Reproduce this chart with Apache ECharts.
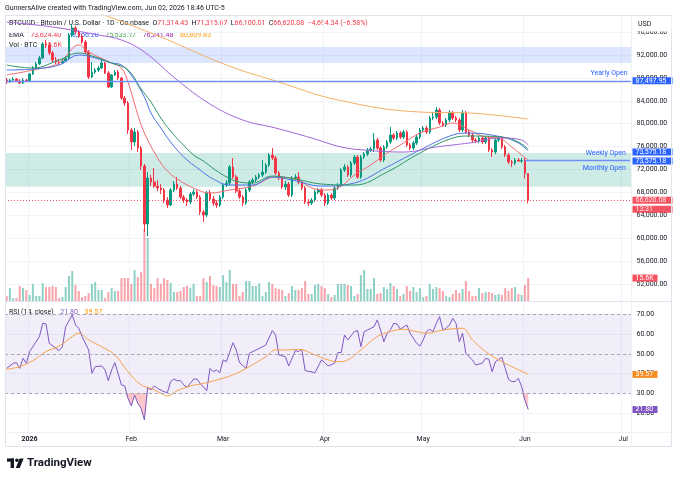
<!DOCTYPE html>
<html lang="en">
<head>
<meta charset="UTF-8">
<title>BTCUSD 1D</title>
<script src="https://cdn.jsdelivr.net/npm/echarts@6/dist/echarts.min.js"></script>
<style>
  html, body { margin: 0; padding: 0; background: #fff; }
  #chart { width: 680px; height: 480px; }
</style>
</head>
<body>
<div id="chart"></div>
<script>
var font = 'Roboto, "DejaVu Sans", sans-serif';

// one category per calendar day, 25 Dec 2025 .. 3 Jul 2026
var days = [];
for (var k = 0; k < 191; k++) {
  days.push(new Date(Date.UTC(2025, 11, 25) + k * 864e5).toISOString().slice(0, 10));
}
var monthNames = ['2026', 'Feb', 'Mar', 'Apr', 'May', 'Jun', 'Jul', 'Aug', 'Sep', 'Oct', 'Nov', 'Dec'];

// daily candles, 25 Dec 2025 .. 2 Jun 2026
var opens = [
  87630,87280,87630,87810,87460,87110,87630,87497.95,88680,89730,
  90430,91480,93920,93750,92350,91130,90780,90600,90950,91480,
  95490,96720,96020,95320,94270,92520,88160,89030,89380,89730,
  90600,88860,86410,88510,89030,87980,84490,83610,78900,76800,
  78550,75750,72610,62480,70510,69810,69110,68770,68420,66670,
  65800,68420,69460,68770,67190,66670,66320,67720,68070,67190,
  64570,64050,67890,66840,66140,65800,67190,69290,69640,72430,
  70690,68240,67190,66140,68420,69810,70160,70690,71040,71560,
  72780,74530,74010,71390,70510,68940,69460,67540,70510,70690,
  69810,68770,66320,66140,66670,68070,68420,67540,66140,67540,
  67020,68770,69290,71910,72430,71040,73130,74180,70690,74180,
  74700,75400,75580,77150,75750,73660,75930,76800,78020,77500,
  78370,77670,78550,76280,75750,76630,77670,78900,79250,78550,
  80990,81170,82390,80120,79770,80640,81870,80990,80640,78900,
  81870,78550,78020,77150,76970,77500,76800,77500,75400,75050,
  77150,77500,75930,74530,73310,73130,73660,73480,73575.18,71314.43
];
var closes = [
  87280,87630,87810,87460,87110,87630,87497.95,88680,89730,90430,
  91480,93920,93750,92350,91130,90780,90600,90950,91480,95490,
  96720,96020,95320,94270,92520,88160,89030,89380,89730,90600,
  88860,86410,88510,89030,87980,84490,83610,78900,76800,78550,
  75750,72610,62480,70510,69810,69110,68770,68420,66670,65800,
  68420,69460,68770,67190,66670,66320,67720,68070,67190,64570,
  64050,67890,66840,66140,65800,67190,69290,69640,72430,70690,
  68240,67190,66140,68420,69810,70160,70690,71040,71560,72780,
  74530,74010,71390,70510,68940,69460,67540,70510,70690,69810,
  68770,66320,66140,66670,68070,68420,67540,66140,67540,67020,
  68770,69290,71910,72430,71040,73130,74180,70690,74180,74700,
  75400,75580,77150,75750,73660,75930,76800,78020,77500,78370,
  77670,78550,76280,75750,76630,77670,78900,79250,78550,80990,
  81170,82390,80120,79770,80640,81870,80990,80640,78900,81870,
  78550,78020,77150,76970,77500,76800,77500,75400,75050,77150,
  77500,75930,74530,73310,73130,73660,73480,73575.18,71314.43,66620.08
];
var lows = [
  86930,87110,87460,87280,86930,86930,87280,87280,88510,89550,
  90250,91300,93220,92000,90600,90430,90250,90430,90780,91300,
  95140,95670,94970,93920,92170,87810,87980,88680,89030,89550,
  88680,86240,86240,88330,87630,84140,83090,78200,75400,76100,
  75050,71910,61080,60380,69110,68770,68240,67720,66140,65270,
  65620,68070,68420,66840,66140,65620,65970,67370,66840,64050,
  62830,63700,66490,65620,65270,65450,66840,68940,69290,70340,
  67890,66840,65620,65800,68070,69460,69810,70340,70690,71210,
  72430,73660,71040,70160,68590,68420,67190,67190,70160,69460,
  68420,65970,65620,65800,66320,67720,67190,65620,65800,66670,
  66670,68420,68940,71560,70690,70690,72780,70340,70340,73830,
  74360,75050,75050,75400,73310,73310,75580,76450,77150,77150,
  77320,77320,75930,75400,75400,76280,77320,78550,78200,78200,
  80640,80820,79770,79420,79420,80290,80640,80290,78550,78550,
  78200,77670,76800,76630,76630,76450,76450,75050,74180,74700,
  76800,75580,74180,72960,72430,72780,73310,73130,70430,66100.01
];
var highs = [
  87980,87810,88160,87980,87810,87980,87810,88860,90080,90780,
  91830,94270,94620,94100,92700,91650,91300,91300,91830,95840,
  97420,97070,96370,95670,94620,92870,90780,89730,90080,91480,
  90780,89200,88680,89380,89380,88160,84840,83960,79250,79250,
  78900,76100,72960,71560,71040,72260,70160,69460,68770,67190,
  68770,69990,70690,69110,67540,67020,68070,68590,68420,67540,
  64920,68240,68420,67370,66670,67540,69640,70160,72780,74010,
  71040,68590,67540,68770,70160,70510,71040,71390,73660,73130,
  74880,75750,74360,71740,70860,69990,69810,70860,71210,71560,
  70160,69110,66840,67020,68420,68770,68770,67890,67890,67890,
  69110,69640,72260,72960,72780,73480,74530,74530,74530,75050,
  75750,75930,78370,77500,76100,76280,77150,79420,78370,78720,
  78720,78900,78900,76630,76970,78020,79250,79600,79600,81340,
  82040,82910,82740,80470,80990,82390,82220,81340,80990,82390,
  82220,78900,78370,77500,77850,77850,77850,77850,75750,77500,
  77850,77850,76280,74880,73660,74010,74010,74010,74010,71315.67
];
// volume in thousands of BTC
var volumes = [
  3.4,8.8,2.0,2.0,10.2,8.8,7.5,4.1,11.6,3.4,
  3.4,12.2,9.5,9.5,10.2,9.5,2.0,2.7,9.5,17.0,
  20.4,10.9,6.8,2.7,3.4,5.4,11.6,12.9,7.5,7.5,
  2.0,6.1,8.8,6.8,6.8,15.6,15.6,15.6,11.6,21.1,
  16.3,19.7,49.0,42.8,11.6,8.8,15.6,11.6,15.6,14.3,
  12.2,6.1,6.1,6.8,9.5,10.2,8.8,11.6,3.4,3.4,
  15.6,12.9,17.0,10.9,10.2,9.5,17.7,12.9,21.1,11.6,
  11.6,3.4,6.1,13.6,13.6,10.2,10.2,12.2,3.4,6.1,
  12.9,11.6,8.8,8.2,7.5,3.4,5.4,10.2,7.5,7.5,
  8.8,13.6,4.8,4.8,10.9,11.6,10.2,8.8,4.8,2.7,
  4.1,11.6,11.6,11.6,10.9,10.2,3.4,4.8,17.7,21.1,
  8.2,8.2,15.6,4.8,5.4,9.5,8.2,12.2,10.2,8.2,
  3.4,4.8,10.2,6.8,9.5,6.1,8.8,2.7,3.4,11.6,
  8.2,9.5,8.8,6.8,3.4,2.7,4.8,7.5,5.4,8.2,
  13.6,6.8,3.4,3.4,8.8,5.4,6.1,6.1,5.4,4.1,
  4.8,4.1,8.8,6.8,8.8,9.5,4.8,4.1,10.9,15.6
];

// EMA lines at sample days
var emaRed = [
  ['2025-12-25',88510],['2026-01-02',89380],['2026-01-10',90600],['2026-01-16',93750],['2026-01-19',92520],
  ['2026-01-26',90600],['2026-01-29',89730],['2026-01-31',87280],['2026-02-02',83440],['2026-02-04',79770],
  ['2026-02-06',77150],['2026-02-08',75050],['2026-02-10',73130],['2026-02-12',71740],['2026-02-15',70340],
  ['2026-02-20',68770],['2026-02-25',67890],['2026-03-03',68420],['2026-03-10',69110],['2026-03-17',70690],
  ['2026-03-24',70160],['2026-03-28',68770],['2026-04-02',68420],['2026-04-06',69110],['2026-04-10',71040],
  ['2026-04-15',72780],['2026-04-20',74880],['2026-04-25',76630],['2026-04-30',78370],['2026-05-06',79420],
  ['2026-05-10',80120],['2026-05-15',78900],['2026-05-20',77670],['2026-05-24',77500],['2026-05-28',75930],
  ['2026-05-31',74530],['2026-06-02',73624.40]
];
var emaBlue = [
  ['2025-12-25',89380],['2026-01-02',89550],['2026-01-10',90250],['2026-01-16',92000],['2026-01-20',91650],
  ['2026-01-26',90600],['2026-01-29',90250],['2026-02-01',88510],['2026-02-05',84660],['2026-02-07',81870],
  ['2026-02-10',79250],['2026-02-13',76800],['2026-02-17',74180],['2026-02-22',71910],['2026-02-26',70340],
  ['2026-03-03',69290],['2026-03-10',69290],['2026-03-16',70690],['2026-03-22',70160],['2026-03-31',69110],
  ['2026-04-10',69640],['2026-04-20',72430],['2026-04-30',75400],['2026-05-10',78020],['2026-05-15',78370],
  ['2026-05-25',77670],['2026-05-30',76630],['2026-06-02',75256.20]
];
var emaGreen = [
  ['2025-12-25',90250],['2026-01-02',89730],['2026-01-10',91130],['2026-01-16',92350],['2026-01-20',91830],
  ['2026-01-26',90600],['2026-01-31',89380],['2026-02-04',86060],['2026-02-07',83790],['2026-02-10',80990],
  ['2026-02-13',78720],['2026-02-16',76800],['2026-02-20',74530],['2026-02-23',73480],['2026-02-28',71390],
  ['2026-03-06',69810],['2026-03-10',69640],['2026-03-16',70860],['2026-03-23',70340],['2026-03-31',69460],
  ['2026-04-10',69290],['2026-04-20',71560],['2026-04-30',74880],['2026-05-10',77500],['2026-05-15',77850],
  ['2026-05-25',77670],['2026-05-30',76800],['2026-06-02',75533.27]
];
var emaPurple = [
  ['2025-12-25',97770],['2026-01-08',96890],['2026-01-22',95490],['2026-01-29',94620],['2026-02-05',92520],
  ['2026-02-15',87630],['2026-02-25',83440],['2026-03-07',80640],['2026-03-17',79250],['2026-03-28',77500],
  ['2026-04-06',75930],['2026-04-13',75400],['2026-04-25',75050],['2026-05-05',75930],['2026-05-15',76630],
  ['2026-05-25',77500],['2026-05-31',77150],['2026-06-02',76241.48]
];
var emaOrange = [
  ['2025-12-25',105000],['2026-01-22',99340],['2026-02-10',95140],['2026-03-02',90250],['2026-03-17',87460],
  ['2026-04-05',84140],['2026-04-30',82040],['2026-05-15',81870],['2026-06-02',80809.83]
];

// RSI(14), one value per candle (null where not read)
var rsi = [
  42.6,null,45.2,45.5,42.6,47.7,45.2,51.1,53.6,null,
  58.7,65.4,65.1,55.3,null,52.8,51.6,53.6,63.7,null,
  69.6,64.6,62.9,58.7,null,51.9,40.1,43.5,null,43.8,
  41.8,36.4,41.8,45.5,null,34.2,33.7,27.4,23.6,29.1,
  24.9,22.4,16.5,33.0,31.7,33.7,32.5,null,30.8,30.3,
  35.9,37.2,36.4,36.4,34.2,33.0,null,37.2,37.2,35.0,
  null,31.3,42.6,40.9,41.8,40.4,46.9,46.0,null,55.6,
  51.9,45.5,null,42.6,50.2,null,51.9,null,null,54.4,
  null,61.7,59.5,49.4,null,48.5,43.8,null,51.6,51.1,
  52.2,41.5,null,null,40.4,null,46.9,45.5,43.8,null,
  45.2,50.6,50.6,59.5,57.0,null,61.2,61.7,53.6,61.2,
  62.0,null,63.7,67.1,62.0,56.1,60.4,62.0,65.4,65.1,
  62.4,null,64.6,60.4,null,55.3,53.9,57.0,61.2,62.4,
  61.2,65.4,68.8,62.0,62.9,64.6,67.9,65.4,56.1,60.4,
  50.2,null,46.9,44.3,null,45.2,47.7,47.2,40.9,46.0,
  null,48.2,42.6,37.1,35.9,35.9,37.6,33.4,26.6,21.80
];
var rsiMa = [
  ['2025-12-25',42.1],['2025-12-29',43.5],['2026-01-02',46.5],['2026-01-06',51.1],['2026-01-10',53.9],
  ['2026-01-14',58.7],['2026-01-16',60.4],['2026-01-19',57.0],['2026-01-22',54.4],['2026-01-27',49.4],
  ['2026-01-31',40.9],['2026-02-04',34.2],['2026-02-07',32.5],['2026-02-10',30.0],['2026-02-12',28.6],
  ['2026-02-15',31.3],['2026-02-19',33.7],['2026-02-23',35.0],['2026-02-27',36.7],['2026-03-04',39.3],
  ['2026-03-09',43.5],['2026-03-14',48.5],['2026-03-17',51.9],['2026-03-20',51.9],['2026-03-24',52.2],
  ['2026-03-29',49.4],['2026-04-02',46.9],['2026-04-05',46.0],['2026-04-08',46.9],['2026-04-12',51.9],
  ['2026-04-17',58.7],['2026-04-21',61.2],['2026-04-25',62.4],['2026-04-29',61.2],['2026-05-02',60.4],
  ['2026-05-07',62.0],['2026-05-13',62.9],['2026-05-16',57.0],['2026-05-20',51.1],['2026-05-24',46.9],
  ['2026-05-28',43.5],['2026-06-02',39.57]
];

var priceTicks = [52000,56000,60000,64000,68000,72000,76000,80000,84000,88000,92000,96000];
var rsiTicks = [20,30,40,50,60,70];
var rsiLevels = [70,50,30];
var oversoldLevel = 30;
var zoneBlue = [90600, 93400];
var zoneGreen = [69000, 74900];

var upColor = '#089981', downColor = '#f23645';
var clear = 'rgba(0,0,0,0)';
var last = closes.length - 1;
var yearlyOpen = opens[days.indexOf('2026-01-01')];
var weeklyOpen = opens[days.indexOf('2026-06-01')];
var lastRsiMa = rsiMa[rsiMa.length - 1][1];

function money(v) {
  return v.toLocaleString('en-US', { minimumFractionDigits: 2, maximumFractionDigits: 2 });
}
function monthStart(i, v) { return v.slice(8) === '01'; }
function monthLabel(v) {
  var m = +v.slice(5, 7);
  return m === 1 ? '{y|' + v.slice(0, 4) + '}' : monthNames[m - 1];
}
function badgeRich(bg, w) {
  return { a: { backgroundColor: bg, color: '#fff', fontSize: 7, fontFamily: font, lineHeight: 9, width: w, padding: [0, 3] } };
}
function badge(value, text, bg, w, pad) {
  return {
    yAxis: value,
    lineStyle: { color: clear, width: 1 },
    label: { show: true, position: 'end', distance: 1, padding: pad || 0, formatter: text, rich: badgeRich(bg, w) }
  };
}

var candles = opens.map(function (o, i) { return [o, closes[i], lows[i], highs[i]]; });
var volumeBars = volumes.map(function (v, i) {
  return { value: v, itemStyle: { color: closes[i] >= opens[i] ? 'rgba(8,153,129,0.45)' : 'rgba(242,54,69,0.45)' } };
});
// RSI below 30 gets a fill: base follows the RSI (capped at 30), the stacked gap reaches up to 30.
// Unread days all sit between readings above 30, so they carry no fill.
var oversoldBase = rsi.map(function (v) { return v === null ? oversoldLevel : Math.min(v, oversoldLevel); });
var oversoldGap = oversoldBase.map(function (v) { return oversoldLevel - v; });

function emaSeries(data, color) {
  return {
    type: 'line', xAxisIndex: 0, yAxisIndex: 0, data: data, smooth: 0.4,
    showSymbol: false, silent: true, z: 3, lineStyle: { color: color, width: 1 }
  };
}
function openLabel(text, pos) {
  return { show: true, position: pos, distance: 4, formatter: text, color: '#2962ff', fontSize: 7 };
}

var chart = echarts.init(document.getElementById('chart'));
chart.setOption({
  animation: false,
  backgroundColor: '#ffffff',
  textStyle: { fontFamily: font },
  grid: [
    { left: 5, right: 48.5, top: 15, height: 286, outerBoundsMode: 'none' },
    { left: 5, right: 48.5, top: 200, height: 101, outerBoundsMode: 'none' },
    { left: 5, right: 48.5, top: 302, height: 130, outerBoundsMode: 'none' }
  ],
  xAxis: [0, 1, 2].map(function (g) {
    return {
      type: 'category', gridIndex: g, data: days, boundaryGap: true,
      axisLine: { show: false }, axisTick: { show: false },
      axisLabel: {
        show: g === 2, interval: monthStart, formatter: monthLabel,
        fontSize: 7, color: '#131722', margin: 4,
        rich: { y: { fontSize: 7, fontWeight: 'bold', color: '#131722' } }
      },
      splitLine: { show: g !== 1, interval: monthStart, lineStyle: { color: '#f0f3fa', width: 1 } }
    };
  }),
  yAxis: [
    {
      gridIndex: 0, position: 'right', min: 49032, max: 98988,
      axisLine: { show: false }, axisTick: { show: false, customValues: priceTicks },
      axisLabel: { customValues: priceTicks, formatter: money, fontSize: 7, color: '#131722', margin: 5 },
      splitLine: { show: true, lineStyle: { color: '#f0f3fa' } }
    },
    { gridIndex: 1, min: 0, max: 68.7, show: false },
    {
      gridIndex: 2, position: 'right', min: 10.4, max: 76.2,
      axisLine: { show: false }, axisTick: { show: false, customValues: rsiTicks },
      axisLabel: { customValues: rsiTicks, formatter: function (v) { return v.toFixed(2); }, fontSize: 7, color: '#131722', margin: 5 },
      splitLine: { show: true, lineStyle: { color: '#f0f3fa' } }
    }
  ],
  series: [
    {
      name: 'BTCUSD', type: 'candlestick', xAxisIndex: 0, yAxisIndex: 0, data: candles,
      barWidth: '62%', clip: false,
      itemStyle: { color: upColor, color0: downColor, borderColor: upColor, borderColor0: downColor, borderWidth: 1 },
      markArea: {
        silent: true,
        data: [
          [{ yAxis: zoneBlue[0], itemStyle: { color: 'rgba(41,98,255,0.16)' } }, { yAxis: zoneBlue[1] }],
          [{ yAxis: zoneGreen[0], itemStyle: { color: 'rgba(8,153,129,0.2)' } }, { yAxis: zoneGreen[1] }]
        ]
      },
      markLine: {
        symbol: 'none', silent: true, animation: false,
        data: [
          { yAxis: yearlyOpen, lineStyle: { color: '#6f8ff7', width: 1.3, type: 'solid' }, label: openLabel('Yearly Open', 'insideEndTop') },
          badge(yearlyOpen, '{a|' + money(yearlyOpen) + '}', '#2962ff', 34),
          [
            { coord: ['2026-06-01', weeklyOpen], lineStyle: { color: '#6f8ff7', width: 1.3, type: 'solid' }, label: openLabel('Weekly Open', 'insideEndTop') },
            { coord: [days[days.length - 1], weeklyOpen], lineStyle: { color: '#6f8ff7', width: 1.3, type: 'solid' }, label: openLabel('Weekly Open', 'insideEndTop') }
          ],
          [
            { coord: ['2026-06-01', weeklyOpen], lineStyle: { color: clear }, label: openLabel('Monthly Open', 'insideEndBottom') },
            { coord: [days[days.length - 1], weeklyOpen], lineStyle: { color: clear }, label: openLabel('Monthly Open', 'insideEndBottom') }
          ],
          badge(weeklyOpen, '{a|' + money(weeklyOpen) + '}\n{a|' + money(weeklyOpen) + '}', '#2962ff', 34, [0, 0, 8, 0]),
          { yAxis: closes[last], lineStyle: { color: '#f23645', type: [1, 2], width: 1, opacity: 0.85 },
            label: { show: true, position: 'end', distance: 1, padding: [9, 0, 0, 0],
              formatter: '{a|' + money(closes[last]) + '}\n{a|13:31}', rich: badgeRich(downColor, 34) } }
        ]
      }
    },
    emaSeries(emaRed, '#f26b70'),
    emaSeries(emaBlue, '#4a72e8'),
    emaSeries(emaGreen, '#2f9768'),
    emaSeries(emaPurple, '#a366d6'),
    emaSeries(emaOrange, '#f5ae62'),
    {
      name: 'Volume', type: 'bar', xAxisIndex: 1, yAxisIndex: 1, data: volumeBars, barWidth: '62%', clip: false, z: 1,
      markLine: { symbol: 'none', silent: true, animation: false,
        data: [badge(volumes[last], '{a|' + volumes[last].toFixed(1) + 'K}', '#f7525f', 19)] }
    },
    {
      name: 'OversoldBase', type: 'line', xAxisIndex: 2, yAxisIndex: 2, data: oversoldBase, stack: 'os',
      stackStrategy: 'all', showSymbol: false, silent: true, z: 3, lineStyle: { color: clear, width: 0 }
    },
    {
      name: 'Oversold', type: 'line', xAxisIndex: 2, yAxisIndex: 2, data: oversoldGap, stack: 'os',
      stackStrategy: 'all', showSymbol: false, silent: true, z: 3, lineStyle: { color: clear, width: 0 },
      areaStyle: { color: 'rgba(242,54,69,0.28)', opacity: 1 }
    },
    {
      name: 'RSI', type: 'line', xAxisIndex: 2, yAxisIndex: 2, data: rsi, connectNulls: true,
      showSymbol: false, silent: true, clip: false, z: 4, lineStyle: { color: '#7e57c2', width: 1 },
      markArea: { silent: true, data: [[{ yAxis: 30, itemStyle: { color: 'rgba(126,87,194,0.1)' } }, { yAxis: 70 }]] },
      markLine: {
        symbol: 'none', silent: true, animation: false,
        data: rsiLevels.map(function (v) {
          return { yAxis: v, lineStyle: { color: '#a3a6af', type: [3, 3], width: 1 }, label: { show: false } };
        }).concat([badge(rsi[last], '{a|' + rsi[last].toFixed(2) + '}', '#7e57c2', 19)])
      }
    },
    {
      name: 'RSI MA', type: 'line', xAxisIndex: 2, yAxisIndex: 2, data: rsiMa, smooth: 0.4,
      showSymbol: false, silent: true, clip: false, z: 4, lineStyle: { color: '#f7a14a', width: 1 },
      markLine: { symbol: 'none', silent: true, animation: false,
        data: [badge(lastRsiMa, '{a|' + lastRsiMa.toFixed(2) + '}', '#f68b1f', 19)] }
    }
  ],
  graphic: [
    { type: 'text', left: 5, top: 4.5, silent: true,
      style: { text: 'GunnersAlive created with TradingView.com, Jun 02, 2026 18:46 UTC-5', fill: '#131722', fontSize: 7, fontFamily: font } },
    { type: 'text', left: 9, top: 20, silent: true,
      style: {
        text: '{d|BTCUSD · Bitcoin / U.S. Dollar · 1D · Coinbase  O}{r|71,314.43}{d|  H}{r|71,315.67}{d|  L}{r|66,100.01}{d|  C}{r|66,620.08}{r|  −4,694.34 (−6.58%)}',
        rich: { d: { fill: '#131722', color: '#131722', fontSize: 7, fontFamily: font }, r: { fill: '#f23645', color: '#f23645', fontSize: 7, fontFamily: font } }
      } },
    { type: 'text', left: 9, top: 29.5, silent: true,
      style: {
        text: '{d|EMA}  {r|73,624.40}  {b|75,256.20}  {g|75,533.27}  {p|76,241.48}  {o|80,809.83}',
        rich: {
          d: { fill: '#131722', fontSize: 7, fontFamily: font }, r: { fill: '#f23645', fontSize: 7, fontFamily: font },
          b: { fill: '#2962ff', fontSize: 7, fontFamily: font }, g: { fill: '#43a047', fontSize: 7, fontFamily: font },
          p: { fill: '#9c27b0', fontSize: 7, fontFamily: font }, o: { fill: '#ff9800', fontSize: 7, fontFamily: font }
        }
      } },
    { type: 'text', left: 9, top: 39, silent: true,
      style: {
        text: '{d|Vol · BTC}  {r|15.6K}',
        rich: { d: { fill: '#131722', fontSize: 7, fontFamily: font }, r: { fill: '#f23645', fontSize: 7, fontFamily: font } }
      } },
    { type: 'text', left: 9, top: 306.5, silent: true,
      style: {
        text: '{d|RSI (14, close)}  {p|21.80}  {o|39.57}',
        rich: { d: { fill: '#131722', fontSize: 7, fontFamily: font }, p: { fill: '#7e57c2', fontSize: 7, fontFamily: font }, o: { fill: '#ff9800', fontSize: 7, fontFamily: font } }
      } },
    // pane frame
    { type: 'rect', silent: true, z: 20, shape: { x: 5.5, y: 15.5, width: 666, height: 431 }, style: { fill: null, stroke: '#e0e3eb', lineWidth: 1 } },
    { type: 'line', silent: true, z: 20, shape: { x1: 5.5, y1: 301.5, x2: 671.5, y2: 301.5 }, style: { stroke: '#e0e3eb', lineWidth: 1 } },
    { type: 'line', silent: true, z: 20, shape: { x1: 5.5, y1: 432.5, x2: 671.5, y2: 432.5 }, style: { stroke: '#eef0f4', lineWidth: 1 } },
    { type: 'line', silent: true, z: 20, shape: { x1: 631.5, y1: 15.5, x2: 631.5, y2: 446.5 }, style: { stroke: '#eef0f4', lineWidth: 1 } },
    { type: 'rect', silent: true, z: 20, shape: { x: 632, y: 16, width: 39.5, height: 15.5 }, style: { fill: '#ffffff' } },
    { type: 'text', silent: true, z: 21, left: 638, top: 20.5, style: { text: 'USD', fill: '#131722', fontSize: 7, fontFamily: font } },
    // TradingView mark
    { type: 'group', left: 7, top: 458.5, silent: true, children: [
      { type: 'rect', shape: { x: 0, y: 0, width: 7, height: 3.2 }, style: { fill: '#131722' } },
      { type: 'rect', shape: { x: 3.6, y: 0, width: 3.4, height: 9.5 }, style: { fill: '#131722' } },
      { type: 'circle', shape: { cx: 9.9, cy: 1.8, r: 1.8 }, style: { fill: '#131722' } },
      { type: 'polygon', shape: { points: [[12.6, 0], [16.6, 0], [12.8, 9.5], [8.8, 9.5]] }, style: { fill: '#131722' } }
    ] },
    { type: 'text', left: 27, top: 457.5, silent: true, style: { text: 'TradingView', fill: '#131722', fontSize: 11.5, fontWeight: 'bold', fontFamily: font } }
  ]
});
</script>
</body>
</html>
